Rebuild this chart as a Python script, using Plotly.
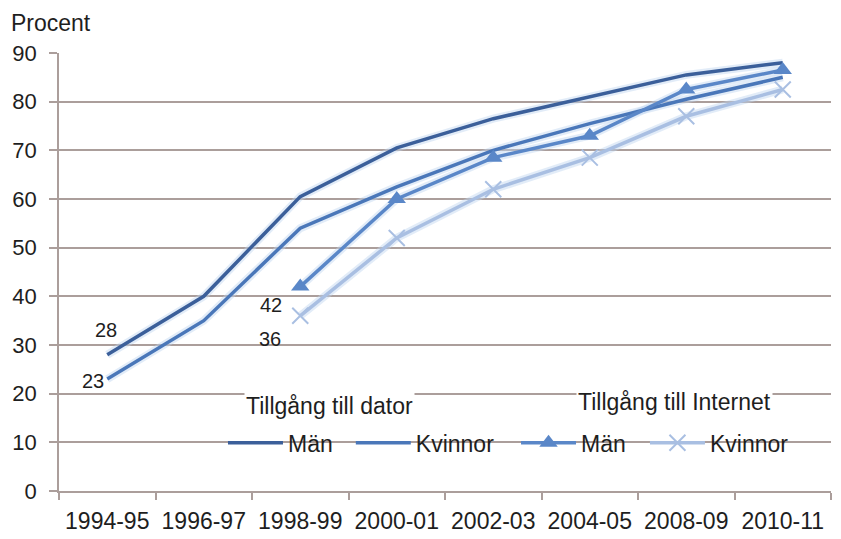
import plotly.graph_objects as go

categories = ["1994-95", "1996-97", "1998-99", "2000-01", "2002-03", "2004-05", "2008-09", "2010-11"]
dator_man = [28, 40, 60.5, 70.5, 76.5, 81, 85.5, 88]
dator_kvinnor = [23, 35, 54, 62.5, 70, 75.5, 80.5, 85]
internet_man = [None, None, 42, 60, 68.5, 73, 82.5, 86.5]
internet_kvinnor = [None, None, 36, 52, 62, 68.5, 77, 82.5]

FONT = "Liberation Sans, Arial, sans-serif"
GRID = "#ab9e9b"
TXT = "#1e1e1e"

ML, MR, MT, MB = 51, 18, 45, 56
PW = 841 - ML - MR

series = [
    # (values, name, legend, colour, marker)
    (dator_man, "Män", "legend", "#3b5f9a", None),
    (dator_kvinnor, "Kvinnor", "legend2", "#4a77b9", None),
    (internet_man, "Män", "legend3", "#5a87c8", dict(symbol="triangle-up", size=16, color="#5a87c8")),
    (internet_kvinnor, "Kvinnor", "legend4", "#a9bfe2",
     dict(symbol="x-thin-open", size=16, color="#a9bfe2", line=dict(color="#a9bfe2", width=2))),
]

fig = go.Figure()
# soft halo under the lines
for vals, name, lg, col, mk in series:
    fig.add_trace(go.Scatter(x=categories, y=vals, mode="lines", showlegend=False,
                             hoverinfo="skip", line=dict(color="rgba(190,212,240,0.45)", width=8)))
for vals, name, lg, col, mk in series:
    fig.add_trace(go.Scatter(
        x=categories, y=vals, name=name, legend=lg,
        mode="lines+markers" if mk else "lines",
        line=dict(color=col, width=3.5),
        marker=mk if mk else None))

# data labels (first value of each series)
label_specs = [
    (dator_man, 0, "center", -1, 25),
    (dator_kvinnor, 0, "right", -1, -2),
    (internet_man, 2, "center", -29, -18),
    (internet_kvinnor, 2, "center", -30, -23),
]
annotations = []
for vals, idx, xa, xs, ys in label_specs:
    annotations.append(dict(x=categories[idx], y=vals[idx], xref="x", yref="y",
                            text=str(int(vals[idx])), showarrow=False,
                            xanchor=xa, yanchor="middle", xshift=xs, yshift=ys,
                            font=dict(size=20, family=FONT, color=TXT)))

annotations += [
    dict(text="Procent", xref="paper", yref="paper", x=-(ML - 1) / PW, y=1.068,
         xanchor="left", yanchor="middle", showarrow=False,
         font=dict(size=23, family=FONT, color=TXT)),
    dict(text="Tillgång till dator", xref="paper", yref="paper", x=0.351, y=0.195,
         xanchor="center", yanchor="middle", showarrow=False, bgcolor="white",
         font=dict(size=23, family=FONT, color=TXT)),
    dict(text="Tillgång till Internet", xref="paper", yref="paper", x=0.797, y=0.203,
         xanchor="center", yanchor="middle", showarrow=False, bgcolor="white",
         font=dict(size=23, family=FONT, color=TXT)),
]

legend_common = dict(orientation="h", y=0.11, xanchor="left", yanchor="middle",
                     bgcolor="rgba(0,0,0,0)",
                     font=dict(size=23, family=FONT, color=TXT), itemwidth=55)

fig.update_layout(
    width=841, height=539,
    margin=dict(l=ML, r=MR, t=MT, b=MB, autoexpand=False),
    paper_bgcolor="white", plot_bgcolor="white",
    font=dict(family=FONT, size=23, color=TXT),
    showlegend=True,
    legend=dict(x=0.2124, **legend_common),
    legend2=dict(x=0.378, **legend_common),
    legend3=dict(x=0.592, **legend_common),
    legend4=dict(x=0.759, **legend_common),
    xaxis=dict(type="category", categoryorder="array", categoryarray=categories,
               range=[-0.5, 7.5], showgrid=False, showline=True, linecolor=GRID, linewidth=1.5,
               ticks="outside", tickson="boundaries", ticklen=7, tickcolor=GRID, tickwidth=1.5,
               tickfont=dict(size=23, family=FONT, color=TXT), ticklabelstandoff=9,
               zeroline=False, automargin=False),
    yaxis=dict(range=[0, 90], dtick=10, showgrid=True, gridcolor=GRID, gridwidth=1.5,
               showline=True, linecolor=GRID, linewidth=1.5,
               ticks="outside", ticklen=8, tickcolor=GRID, tickwidth=1.5,
               tickfont=dict(size=22, family=FONT, color=TXT), ticklabelstandoff=8,
               zeroline=False, automargin=False),
    annotations=annotations,
)

fig.write_html("out.html")
